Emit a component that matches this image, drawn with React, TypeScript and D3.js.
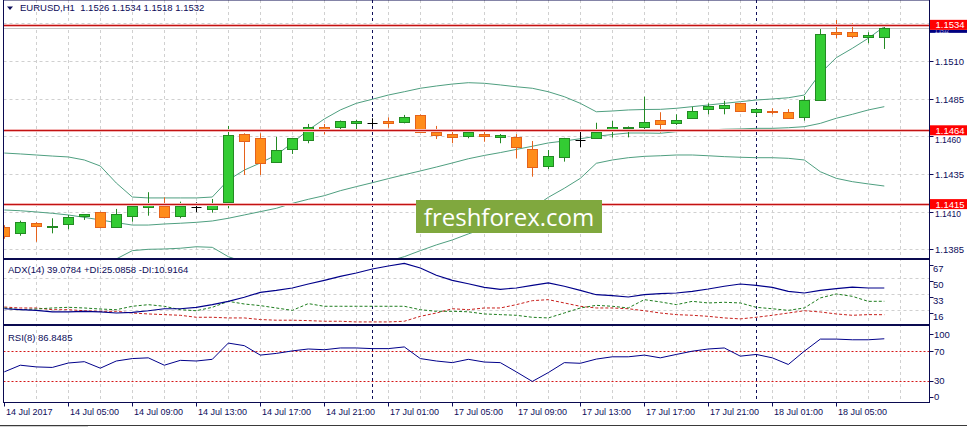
import { useEffect, useRef } from 'react';
import * as d3 from 'd3';

// EURUSD H1, 14 Jul 01:00 .. 18 Jul 08:00
const opens = [1.14000, 1.13956, 1.14023, 1.14000, 1.14016, 1.14071, 1.14096, 1.14000, 1.14073, 1.14133,
  1.14140, 1.14073, 1.14129, 1.14116, 1.14162, 1.14615, 1.14587, 1.14432, 1.14514, 1.14576,
  1.14664, 1.14660, 1.14686, 1.14690, 1.14702, 1.14697, 1.14742, 1.14631, 1.14615, 1.14604,
  1.14615, 1.14593, 1.14593, 1.14514, 1.14405, 1.14465, 1.14576, 1.14587, 1.14635, 1.14657,
  1.14660, 1.14708, 1.14686, 1.14720, 1.14779, 1.14786, 1.14819, 1.14760, 1.14770, 1.14764,
  1.14726, 1.14841, 1.15291, 1.15291, 1.15257, 1.15260];
const highs = [1.14010, 1.14040, 1.14030, 1.14056, 1.14078, 1.14084, 1.14100, 1.14118, 1.14155, 1.14229,
  1.14195, 1.14166, 1.14162, 1.14184, 1.14669, 1.14620, 1.14620, 1.14597, 1.14590, 1.14682,
  1.14682, 1.14705, 1.14710, 1.14720, 1.14726, 1.14742, 1.14745, 1.14669, 1.14631, 1.14647,
  1.14635, 1.14615, 1.14615, 1.14569, 1.14509, 1.14590, 1.14631, 1.14690, 1.14702, 1.14666,
  1.14863, 1.14760, 1.14746, 1.14797, 1.14819, 1.14836, 1.14820, 1.14783, 1.14786, 1.14781,
  1.14868, 1.15312, 1.15372, 1.15350, 1.15291, 1.15340];
const lows = [1.13920, 1.13940, 1.13900, 1.13956, 1.13983, 1.14045, 1.13990, 1.13998, 1.14033, 1.14073,
  1.14060, 1.14056, 1.14096, 1.14093, 1.14122, 1.14343, 1.14343, 1.14430, 1.14483, 1.14554,
  1.14613, 1.14635, 1.14642, 1.14664, 1.14657, 1.14686, 1.14624, 1.14582, 1.14554, 1.14587,
  1.14564, 1.14554, 1.14454, 1.14332, 1.14383, 1.14432, 1.14527, 1.14585, 1.14591, 1.14593,
  1.14647, 1.14624, 1.14675, 1.14718, 1.14746, 1.14746, 1.14766, 1.14737, 1.14746, 1.14718,
  1.14704, 1.14836, 1.15251, 1.15251, 1.15218, 1.15180];
const closes = [1.13940, 1.14033, 1.14005, 1.14004, 1.14066, 1.14082, 1.13996, 1.14082, 1.14140, 1.14155,
  1.14062, 1.14137, 1.14129, 1.14155, 1.14609, 1.14571, 1.14425, 1.14510, 1.14587, 1.14660,
  1.14647, 1.14702, 1.14702, 1.14690, 1.14686, 1.14726, 1.14631, 1.14609, 1.14593, 1.14631,
  1.14604, 1.14609, 1.14527, 1.14394, 1.14471, 1.14587, 1.14576, 1.14631, 1.14664, 1.14664,
  1.14697, 1.14680, 1.14708, 1.14768, 1.14801, 1.14808, 1.14768, 1.14781, 1.14760, 1.14720,
  1.14841, 1.15277, 1.15277, 1.15268, 1.15273, 1.15320];

// Bollinger bands
const bbUpper = [1.14489, 1.14483, 1.14476, 1.14469, 1.14463, 1.14443, 1.14403, 1.14290, 1.14197, 1.14191,
  1.14191, 1.14191, 1.14191, 1.14197, 1.14310, 1.14376, 1.14423, 1.14476, 1.14556, 1.14642,
  1.14715, 1.14775, 1.14819, 1.14846, 1.14874, 1.14896, 1.14919, 1.14934, 1.14947, 1.14956,
  1.14952, 1.14941, 1.14929, 1.14919, 1.14896, 1.14863, 1.14819, 1.14763, 1.14768, 1.14775,
  1.14778, 1.14779, 1.14786, 1.14797, 1.14808, 1.14819, 1.14830, 1.14841, 1.14848, 1.14856,
  1.14874, 1.15018, 1.15122, 1.15184, 1.15251, 1.15328];
const bbMiddle = [1.14111, 1.14106, 1.14098, 1.14089, 1.14078, 1.14062, 1.14045, 1.14027, 1.14011, 1.14011,
  1.14018, 1.14023, 1.14029, 1.14038, 1.14056, 1.14078, 1.14100, 1.14122, 1.14155, 1.14182,
  1.14206, 1.14239, 1.14266, 1.14292, 1.14319, 1.14345, 1.14370, 1.14396, 1.14423, 1.14451,
  1.14473, 1.14492, 1.14513, 1.14534, 1.14556, 1.14569, 1.14584, 1.14600, 1.14612, 1.14622,
  1.14622, 1.14620, 1.14631, 1.14637, 1.14642, 1.14647, 1.14649, 1.14653, 1.14653, 1.14657,
  1.14664, 1.14686, 1.14720, 1.14746, 1.14775, 1.14797];
const bbLower = [1.13746, 1.13739, 1.13733, 1.13726, 1.13719, 1.13726, 1.13746, 1.13786, 1.13841, 1.13850,
  1.13852, 1.13857, 1.13867, 1.13863, 1.13801, 1.13766, 1.13752, 1.13739, 1.13726, 1.13713,
  1.13713, 1.13719, 1.13733, 1.13746, 1.13772, 1.13801, 1.13841, 1.13879, 1.13912, 1.13952,
  1.13989, 1.14023, 1.14067, 1.14122, 1.14195, 1.14255, 1.14321, 1.14421, 1.14443, 1.14458,
  1.14467, 1.14471, 1.14476, 1.14476, 1.14471, 1.14465, 1.14461, 1.14458, 1.14458, 1.14454,
  1.14443, 1.14365, 1.14321, 1.14299, 1.14284, 1.14270];

// ADX(14)
const adx = [17.2, 16.2, 15.5, 13.8, 13.8, 14.5, 13.8, 12.7, 13.4, 15.1, 17.2, 17.2, 18.7, 21.5, 25.0, 29.3,
  34.5, 36.6, 39.1, 43.3, 47.2, 51.4, 54.9, 59.1, 62.3, 65.1, 60.2, 52.5, 47.2, 43.6, 39.8, 37.7,
  39.1, 41.9, 44.4, 40.9, 36.6, 32.0, 31.0, 29.6, 32.0, 33.1, 33.8, 35.6, 38.0, 40.9, 43.3, 41.9,
  39.8, 35.6, 33.8, 36.6, 38.4, 40.1, 39.1, 39.0784];
const plusDI = [18.0, 16.2, 16.9, 18.0, 18.7, 18.0, 16.9, 16.2, 19.8, 21.5, 19.8, 16.2, 15.1, 18.7, 25.0, 22.2,
  20.5, 18.0, 15.5, 22.6, 19.8, 19.8, 19.8, 19.8, 19.8, 19.8, 16.2, 14.5, 14.5, 14.0, 11.7, 11.0,
  10.3, 8.2, 7.5, 12.7, 18.0, 20.8, 19.8, 18.0, 26.8, 24.4, 21.5, 25.0, 23.3, 24.0, 23.3, 18.7,
  17.2, 15.5, 18.0, 28.6, 32.8, 30.3, 25.0, 25.0858];
const minusDI = [19.0, 18.0, 18.0, 16.2, 16.2, 15.1, 14.5, 14.5, 12.7, 11.7, 11.0, 10.3, 8.2, 8.2, 7.5, 7.5,
  5.8, 5.1, 5.1, 4.7, 4.0, 4.0, 3.3, 3.3, 3.3, 4.0, 9.2, 12.7, 17.2, 16.2, 18.0, 18.0,
  21.5, 25.7, 26.8, 23.3, 19.8, 18.0, 18.0, 17.2, 15.1, 12.7, 11.0, 10.3, 9.2, 7.5, 6.5, 8.2,
  10.3, 12.7, 15.1, 13.8, 11.7, 10.3, 11.0, 10.9164];

// RSI(8)
const rsi = [42, 51, 48.7, 48, 54, 55.8, 47, 56.7, 60, 61, 51, 57.6, 56.7, 59, 81, 77.5,
  64.7, 67, 70.4, 73, 72, 74.4, 74.4, 73.5, 73.5, 75.8, 60, 56.7, 54.5, 59, 55.3, 54.5,
  42, 29, 41, 54.5, 53.6, 59.3, 62.4, 62.4, 64.7, 61, 65.6, 70, 73, 74.4, 63.3, 65.6,
  61, 52, 70, 86.4, 86.4, 85.5, 85.5, 86.8485];

const timeLabels = ['14 Jul 2017', '14 Jul 05:00', '14 Jul 09:00', '14 Jul 13:00', '14 Jul 17:00',
  '14 Jul 21:00', '17 Jul 01:00', '17 Jul 05:00', '17 Jul 09:00', '17 Jul 13:00', '17 Jul 17:00',
  '17 Jul 21:00', '18 Jul 01:00', '18 Jul 05:00'];
const daySeparators = [23, 47];
const priceTicks = [1.1535, 1.1510, 1.1485, 1.1460, 1.1435, 1.1410, 1.1385];
const priceLevels = [1.1534, 1.1464, 1.1415];
const bidPrice = 1.1532;
const adxTicks = [67, 50, 33, 16];
const rsiTicks = [100, 70, 30, 0];
const rsiLevels = [70, 30];

const FONT = 'Liberation Sans, Arial, sans-serif';
const NAVY = '#0c0c5a';

export default function App() {
  const svgRef = useRef<SVGSVGElement>(null);

  useEffect(() => {
    if (!svgRef.current) return;
    const svg = d3.select(svgRef.current);
    svg.selectAll('*').remove();

    const left = 3.5, right = 929.5;
    const panels = {
      main: [0, 258.5],
      adx: [259.5, 324.5],
      rsi: [325.5, 402.5]
    };

    const x = d3.scaleLinear().domain([0, 55]).range([4.3, 884.3]);
    const y = d3.scaleLinear().domain([1.1385, 1.1510]).range([249.3, 61]);
    const yAdx = d3.scaleLinear().domain([10.9164, 39.0784]).range([314.7, 288]);
    const yRsi = d3.scaleLinear().domain([30, 70]).range([380.7, 351.2]);
    const px = (i: number) => Math.round(x(i)) + 0.5;

    svg.append('rect').attr('width', 967).attr('height', 427).attr('fill', '#fff');

    const defs = svg.append('defs');
    Object.entries(panels).forEach(([id, [t, b]]) => {
      defs.append('clipPath').attr('id', 'clip-' + id)
        .append('rect').attr('x', left).attr('y', t).attr('width', right - left).attr('height', b - t);
    });

    const text = (sel: any, tx: number, ty: number, s: string, size = 9.5, fill = NAVY) =>
      sel.append('text').attr('x', tx).attr('y', ty).attr('dominant-baseline', 'central')
        .style('font-family', FONT).style('font-size', size + 'px').attr('fill', fill).text(s);

    // vertical grid, all panels
    const grid = svg.append('g').attr('stroke', '#d0d0d0').attr('stroke-dasharray', '3,3');
    d3.range(2, 57, 2).forEach(k => {
      grid.append('line').attr('x1', px(k)).attr('x2', px(k)).attr('y1', 0).attr('y2', 402);
    });
    priceTicks.forEach(p => {
      const yy = Math.round(y(p)) + 0.5;
      grid.append('line').attr('x1', left).attr('x2', right).attr('y1', yy).attr('y2', yy);
    });
    adxTicks.slice(1).forEach(v => {
      const yy = Math.round(yAdx(v)) + 0.5;
      grid.append('line').attr('x1', left).attr('x2', right).attr('y1', yy).attr('y2', yy);
    });

    // day separators
    daySeparators.forEach(k => {
      svg.append('line').attr('x1', px(k)).attr('x2', px(k)).attr('y1', 0).attr('y2', 402)
        .attr('stroke', '#10105a').attr('stroke-dasharray', '3,3');
    });

    // ---- main panel
    const main = svg.append('g').attr('clip-path', 'url(#clip-main)');

    const bandLine = d3.line<number>().x((_, i) => x(i)).y(d => y(d));
    [bbUpper, bbMiddle, bbLower].forEach(arr => {
      main.append('path').attr('d', bandLine(arr)).attr('fill', 'none')
        .attr('stroke', '#4f9f80').attr('stroke-width', 1);
    });

    // bid line
    main.append('line').attr('x1', left).attr('x2', right)
      .attr('y1', Math.round(y(bidPrice)) + 0.5).attr('y2', Math.round(y(bidPrice)) + 0.5)
      .attr('stroke', '#c4c4c4');

    // candles
    opens.forEach((o, i) => {
      const c = closes[i];
      const cx = px(i);
      if (o === c) {
        main.append('line').attr('x1', cx).attr('x2', cx).attr('y1', y(highs[i])).attr('y2', y(lows[i]))
          .attr('stroke', '#000');
        main.append('line').attr('x1', cx - 5).attr('x2', cx + 5)
          .attr('y1', Math.round(y(o)) + 0.5).attr('y2', Math.round(y(o)) + 0.5).attr('stroke', '#000');
        return;
      }
      const up = c > o;
      const edge = up ? '#238a23' : '#e5621c';
      main.append('line').attr('x1', cx).attr('x2', cx).attr('y1', y(highs[i])).attr('y2', y(lows[i]))
        .attr('stroke', edge);
      const top = Math.round(y(Math.max(o, c))) + 0.5;
      const bot = Math.round(y(Math.min(o, c))) + 0.5;
      main.append('rect').attr('x', cx - 5).attr('y', top).attr('width', 10)
        .attr('height', Math.max(1, bot - top))
        .attr('fill', up ? '#33cc33' : '#ff8c1a').attr('stroke', edge);
    });

    // horizontal level lines
    priceLevels.forEach(p => {
      const yy = Math.round(y(p)) + 0.5;
      main.append('line').attr('x1', left).attr('x2', right).attr('y1', yy).attr('y2', yy)
        .attr('stroke', '#f3b5b5').attr('stroke-width', 3);
      main.append('line').attr('x1', left).attr('x2', right).attr('y1', yy).attr('y2', yy)
        .attr('stroke', '#c21212').attr('stroke-width', 1.2);
    });

    // watermark
    main.append('rect').attr('x', 416).attr('y', 200).attr('width', 186).attr('height', 33)
      .attr('fill', '#80a83e');
    main.append('text').attr('x', 509).attr('y', 225.5).attr('text-anchor', 'middle')
      .style('font-family', 'Open Sans, sans-serif').style('font-size', '24px').attr('fill', '#fff')
      .text('freshforex.com');

    // header
    svg.append('path').attr('d', 'M7,6.5 L13,6.5 L10,10 Z').attr('fill', NAVY);
    text(svg, 20, 7.5, 'EURUSD,H1\u00a0\u00a01.1526 1.1534 1.1518 1.1532');

    // price axis; labels that sit under a level label peek out just below it
    const levelBoxes = priceLevels.map(p => [y(p) - 5, y(p) + 5]);
    priceTicks.slice(1).forEach(p => {
      const yy = Math.round(y(p)) + 0.5;
      svg.append('line').attr('x1', right).attr('x2', right + 4).attr('y1', yy).attr('y2', yy).attr('stroke', NAVY);
      const hit = levelBoxes.find(([a, b]) => yy > a - 6 && yy < b + 6);
      if (hit) text(svg, 935, hit[1] + 4.6, p.toFixed(4), 8.5);
      else text(svg, 935, yy, p.toFixed(4));
    });
    // bid label: only a sliver shows under the top level label
    const topBox = levelBoxes[0];
    svg.append('rect').attr('x', 930).attr('y', topBox[1]).attr('width', 37)
      .attr('height', Math.max(0, y(bidPrice) + 5 - topBox[1])).attr('fill', '#000080');
    text(svg, 935, topBox[1] + 2, bidPrice.toFixed(4), 4.5, '#c8c8e8');
    priceLevels.forEach(p => {
      const yy = y(p);
      svg.append('rect').attr('x', 930).attr('y', yy - 5).attr('width', 37).attr('height', 10).attr('fill', '#ff0000');
      text(svg, 935.5, yy, p.toFixed(4), 9.5, '#fff');
    });

    // ---- ADX panel
    const adxG = svg.append('g').attr('clip-path', 'url(#clip-adx)');
    const lineAdx = d3.line<number>().x((_, i) => x(i)).y(d => yAdx(d));
    adxG.append('path').attr('d', lineAdx(minusDI)).attr('fill', 'none').attr('stroke', '#c8201c')
      .attr('stroke-dasharray', '3,2');
    adxG.append('path').attr('d', lineAdx(plusDI)).attr('fill', 'none').attr('stroke', '#1e7d1e')
      .attr('stroke-dasharray', '3,2');
    adxG.append('path').attr('d', lineAdx(adx)).attr('fill', 'none').attr('stroke', '#00008a')
      .attr('stroke-width', 1.2);
    text(svg, 8, 269.5, 'ADX(14) 39.0784 +DI:25.0858 -DI:10.9164');
    adxTicks.forEach((v, i) => {
      const yy = Math.max(yAdx(v), 261.5) + 7;
      svg.append('line').attr('x1', right).attr('x2', right + 4).attr('y1', Math.round(yy - 4) + 0.5)
        .attr('y2', Math.round(yy - 4) + 0.5).attr('stroke', NAVY);
      text(svg, 933, yy - (i === 0 ? 0.5 : 0), String(v));
    });

    // ---- RSI panel
    const rsiG = svg.append('g').attr('clip-path', 'url(#clip-rsi)');
    rsiLevels.forEach(v => {
      const yy = Math.round(yRsi(v)) + 0.5;
      rsiG.append('line').attr('x1', left).attr('x2', right).attr('y1', yy).attr('y2', yy)
        .attr('stroke', '#d41616').attr('stroke-width', 1.2).attr('stroke-dasharray', '2,2');
    });
    const lineRsi = d3.line<number>().x((_, i) => x(i)).y(d => yRsi(d));
    rsiG.append('path').attr('d', lineRsi(rsi)).attr('fill', 'none').attr('stroke', '#00008a');
    text(svg, 8, 337, 'RSI(8) 86.8485');
    rsiTicks.forEach(v => {
      const yy = Math.min(Math.max(yRsi(v), 334), 396.5);
      svg.append('line').attr('x1', right).attr('x2', right + 4).attr('y1', Math.round(yy) + 0.5)
        .attr('y2', Math.round(yy) + 0.5).attr('stroke', NAVY);
      text(svg, 934, yy, String(v));
    });

    // panel frames
    Object.values(panels).forEach(([t, b]) => {
      svg.append('rect').attr('x', left).attr('y', t).attr('width', right - left).attr('height', b - t)
        .attr('fill', 'none').attr('stroke', '#0a0a50');
    });

    // time axis
    timeLabels.forEach((s, j) => {
      const tx = px(j * 4);
      svg.append('line').attr('x1', tx).attr('x2', tx).attr('y1', 402.5).attr('y2', 406.5).attr('stroke', NAVY);
      text(svg, tx + 1.5, 412, s, 9);
    });

    // terminal bottom edge
    svg.append('line').attr('x1', 0).attr('x2', 967).attr('y1', 425.5).attr('y2', 425.5).attr('stroke', '#3a3a3a');
    svg.append('rect').attr('x', 0).attr('y', 426).attr('width', 88).attr('height', 1).attr('fill', '#cfcfcf');
  }, []);

  return (
    <svg ref={svgRef} width={967} height={427}
      style={{ position: 'absolute', left: 0, top: 0, display: 'block' }} />
  );
}
